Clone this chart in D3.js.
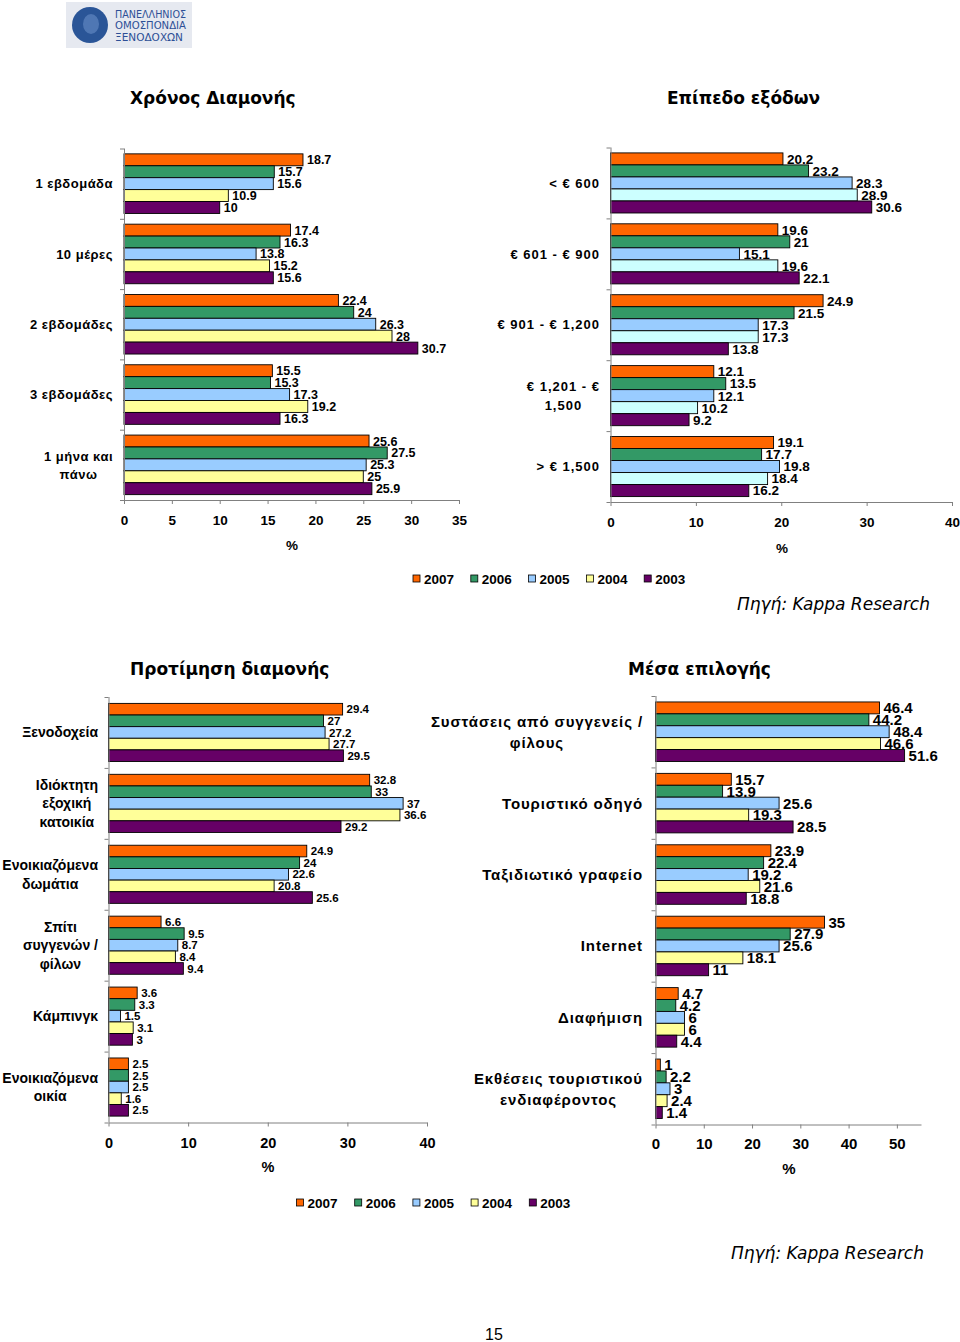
<!DOCTYPE html>
<html>
<head>
<meta charset="utf-8">
<script src="https://cdn.jsdelivr.net/npm/d3@7"></script>
<style>
  body { margin: 0; background: #fff; }
  svg { display: block; }
</style>
</head>
<body>
<script>
// ---------- DATA ----------
const years = ["2007", "2006", "2005", "2004", "2003"];

// Χρόνος Διαμονής
const stayCats = ["1 εβδομάδα", "10 μέρες", "2 εβδομάδες", "3 εβδομάδες", "1 μήνα και\nπάνω"];
const stay2007 = [18.7, 17.4, 22.4, 15.5, 25.6];
const stay2006 = [15.7, 16.3, 24, 15.3, 27.5];
const stay2005 = [15.6, 13.8, 26.3, 17.3, 25.3];
const stay2004 = [10.9, 15.2, 28, 19.2, 25];
const stay2003 = [10, 15.6, 30.7, 16.3, 25.9];
const stayTicks = [0, 5, 10, 15, 20, 25, 30, 35];

// Επίπεδο εξόδων
const spendCats = ["<  €  600", "€  601 - €  900", "€  901 - €  1,200", "€  1,201 - €\n1,500", ">  € 1,500"];
const spend2007 = [20.2, 19.6, 24.9, 12.1, 19.1];
const spend2006 = [23.2, 21, 21.5, 13.5, 17.7];
const spend2005 = [28.3, 15.1, 17.3, 12.1, 19.8];
const spend2004 = [28.9, 19.6, 17.3, 10.2, 18.4];
const spend2003 = [30.6, 22.1, 13.8, 9.2, 16.2];
const spendTicks = [0, 10, 20, 30, 40];

// Προτίμηση διαμονής
const accCats = ["Ξενοδοχεία", "Ιδιόκτητη\nεξοχική\nκατοικία", "Ενοικιαζόμενα\nδωμάτια", "Σπίτι\nσυγγενών /\nφίλων", "Κάμπινγκ", "Ενοικιαζόμενα\nοικία"];
const acc2007 = [29.4, 32.8, 24.9, 6.6, 3.6, 2.5];
const acc2006 = [27, 33, 24, 9.5, 3.3, 2.5];
const acc2005 = [27.2, 37, 22.6, 8.7, 1.5, 2.5];
const acc2004 = [27.7, 36.6, 20.8, 8.4, 3.1, 1.6];
const acc2003 = [29.5, 29.2, 25.6, 9.4, 3, 2.5];
const accTicks = [0, 10, 20, 30, 40];

// Μέσα επιλογής
const mediaCats = ["Συστάσεις από συγγενείς /\nφίλους", "Τουριστικό οδηγό", "Ταξιδιωτικό γραφείο", "Internet", "Διαφήμιση", "Εκθέσεις τουριστικού\nενδιαφέροντος"];
const media2007 = [46.4, 15.7, 23.9, 35, 4.7, 1];
const media2006 = [44.2, 13.9, 22.4, 27.9, 4.2, 2.2];
const media2005 = [48.4, 25.6, 19.2, 25.6, 6, 3];
const media2004 = [46.6, 19.3, 21.6, 18.1, 6, 2.4];
const media2003 = [51.6, 28.5, 18.8, 11, 4.4, 1.4];
const mediaTicks = [0, 10, 20, 30, 40, 50];

const colors = ["#FF6600", "#339966", "#99CCFF", "#FFFF99", "#660066"];
const colorsSpend = ["#FF6600", "#339966", "#99CCFF", "#CCFFFF", "#660066"];

// ---------- DRAW ----------
const svg = d3.select("body").append("svg").attr("width", 960).attr("height", 1342);
svg.append("rect").attr("width", 960).attr("height", 1342).attr("fill", "#fff");

const ARIAL = "'Liberation Sans', Arial, sans-serif";
const VERD = "'DejaVu Sans', Verdana, sans-serif";

// Logo
const logo = svg.append("g");
logo.append("rect").attr("x", 66).attr("y", 2).attr("width", 126).attr("height", 46).attr("fill", "#e6e9f0");
logo.append("circle").attr("cx", 90).attr("cy", 25).attr("r", 18).attr("fill", "#2a5597");
logo.append("ellipse").attr("cx", 91).attr("cy", 24).attr("rx", 8).attr("ry", 10).attr("fill", "#5f86c0").attr("opacity", 0.7);
["ΠΑΝΕΛΛΗΝΙΟΣ", "ΟΜΟΣΠΟΝΔΙΑ", "ΞΕΝΟΔΟΧΩΝ"].forEach((t, i) => {
  logo.append("text").attr("x", 115).attr("y", 17.5 + i * 11.7)
    .attr("textLength", i === 2 ? 68 : 71).attr("lengthAdjust", "spacingAndGlyphs")
    .attr("font-family", "'DejaVu Sans', sans-serif").attr("font-size", 10.5)
    .attr("fill", "#2d4f96").text(t);
});

function title(txt, x, y) {
  svg.append("text").attr("x", x).attr("y", y).attr("font-family", VERD)
    .attr("font-weight", "bold").attr("font-size", 17).attr("fill", "#000").text(txt);
}
title("Χρόνος Διαμονής", 130, 104);
title("Επίπεδο εξόδων", 667, 104);
title("Προτίμηση διαμονής", 130, 675);
title("Μέσα επιλογής", 628, 675);

function drawChart(o) {
  const g = svg.append("g");
  const x = d3.scaleLinear().domain([0, o.max]).range([o.x0, o.x1]);
  const y = d3.scaleBand().domain(o.cats).range([o.y0, o.y1]);
  const yi = d3.scaleBand().domain(years).range([0, y.bandwidth()]).paddingOuter(o.pad);

  o.cats.forEach((c, i) => {
    years.forEach((yr, j) => {
      const v = o.series[j][i];
      const by = y(c) + yi(yr);
      g.append("rect").attr("x", x(0)).attr("y", by)
        .attr("width", x(v) - x(0)).attr("height", yi.bandwidth())
        .attr("fill", o.colors[j]).attr("stroke", "#000").attr("stroke-width", 0.9);
      g.append("text").attr("x", x(v) + 4).attr("y", by + yi.bandwidth() / 2).attr("dy", "0.36em")
        .attr("font-family", ARIAL).attr("font-weight", "bold").attr("font-size", o.valFont)
        .attr("fill", "#000").text(String(v));
    });
  });

  // x axis
  const ax = g.append("g").attr("transform", `translate(0,${o.y1})`)
    .call(d3.axisBottom(x).tickValues(o.ticks).tickSize(4).tickSizeOuter(0).tickPadding(o.tickPad).tickFormat(d => d));
  ax.attr("font-family", ARIAL).attr("font-size", o.tickFont).attr("font-weight", "bold");
  ax.select(".domain").attr("stroke", "#808080");
  ax.selectAll(".tick line").attr("stroke", "#808080");
  ax.selectAll(".tick text").attr("fill", "#000");

  // y axis line and ticks
  g.append("line").attr("x1", x(0) + 0.5).attr("x2", x(0) + 0.5).attr("y1", o.y0).attr("y2", o.y1)
    .attr("stroke", "#808080");
  const bounds = o.cats.map(c => y(c)).concat([o.y1]);
  bounds.forEach(b => {
    g.append("line").attr("x1", x(0) - 4).attr("x2", x(0)).attr("y1", b + 0.5).attr("y2", b + 0.5)
      .attr("stroke", "#808080");
  });

  // category labels
  o.cats.forEach(c => {
    const lines = c.split("\n");
    const cy = y(c) + y.bandwidth() / 2;
    const tg = g.append("g");
    const ts = lines.map((ln, k) => tg.append("text")
      .attr("y", cy + (k - (lines.length - 1) / 2) * o.lineH).attr("dy", "0.36em")
      .attr("font-family", ARIAL).attr("font-weight", "bold").attr("font-size", o.catFont)
      .attr("letter-spacing", o.catLS || 0)
      .attr("text-anchor", "middle").attr("fill", "#000").text(ln));
    const maxW = d3.max(ts, t => t.node().getComputedTextLength());
    ts.forEach(t => t.attr("x", o.labelRight - maxW / 2));
  });

  // % label
  g.append("text").attr("x", o.pctX).attr("y", o.pctY).attr("text-anchor", "middle")
    .attr("font-family", ARIAL).attr("font-weight", "bold").attr("font-size", o.tickFont)
    .attr("fill", "#000").text("%");
}

drawChart({
  cats: stayCats, series: [stay2007, stay2006, stay2005, stay2004, stay2003], colors: colors,
  max: 35, ticks: stayTicks, x0: 124, x1: 459, y0: 148.5, y1: 500, pad: 0.45,
  valFont: 12.5, tickFont: 13.5, tickPad: 11, catFont: 13, catLS: 0.5, lineH: 18, labelRight: 113,
  pctX: 292, pctY: 550
});

drawChart({
  cats: spendCats, series: [spend2007, spend2006, spend2005, spend2004, spend2003], colors: colorsSpend,
  max: 40, ticks: spendTicks, x0: 610.5, x1: 952, y0: 147.5, y1: 502, pad: 0.45,
  valFont: 13.5, tickFont: 13.5, tickPad: 11, catFont: 13, catLS: 1, lineH: 19, labelRight: 600,
  pctX: 782, pctY: 553
});

drawChart({
  cats: accCats, series: [acc2007, acc2006, acc2005, acc2004, acc2003], colors: colors,
  max: 40, ticks: accTicks, x0: 108.5, x1: 427, y0: 697, y1: 1122.5, pad: 0.55,
  valFont: 11.5, tickFont: 14.5, tickPad: 11, catFont: 14, lineH: 18.5, labelRight: 98,
  pctX: 268, pctY: 1172
});

drawChart({
  cats: mediaCats, series: [media2007, media2006, media2005, media2004, media2003], colors: colors,
  max: 55, ticks: mediaTicks, x0: 655.5, x1: 921, y0: 696, y1: 1124.5, pad: 0.5,
  valFont: 15, tickFont: 15, tickPad: 10, catFont: 15, catLS: 0.9, lineH: 21, labelRight: 643,
  pctX: 789, pctY: 1174
});

// Legends
function legend(x0, yc, step, cols) {
  years.forEach((yr, j) => {
    const lx = x0 + j * step;
    svg.append("rect").attr("x", lx).attr("y", yc - 4).attr("width", 7).attr("height", 7)
      .attr("fill", cols[j]).attr("stroke", "#000").attr("stroke-width", 0.8);
    svg.append("text").attr("x", lx + 11).attr("y", yc).attr("dy", "0.36em")
      .attr("font-family", ARIAL).attr("font-weight", "bold").attr("font-size", 13.5)
      .attr("fill", "#000").text(yr);
  });
}
legend(413, 579, 57.8, colors);
legend(296.5, 1203, 58.2, colors);

// Sources
function source(xr, y) {
  svg.append("text").attr("x", xr).attr("y", y).attr("text-anchor", "end")
    .attr("font-family", VERD).attr("font-style", "italic").attr("font-size", 17)
    .attr("fill", "#000").text("Πηγή: Kappa Research");
}
source(930, 610);
source(924, 1259);

// Page number
svg.append("text").attr("x", 494).attr("y", 1340).attr("text-anchor", "middle")
  .attr("font-family", ARIAL).attr("font-size", 16).attr("fill", "#000").text("15");
</script>
</body>
</html>
